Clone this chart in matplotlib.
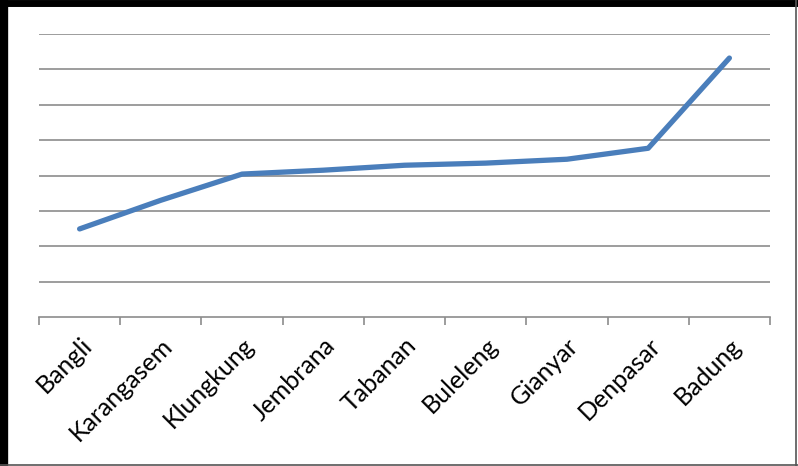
import matplotlib.pyplot as plt
from matplotlib.lines import Line2D

kabupaten = ['Bangli', 'Karangasem', 'Klungkung', 'Jembrana', 'Tabanan',
             'Buleleng', 'Gianyar', 'Denpasar', 'Badung']
nilai = [2.49, 3.30, 4.04, 4.15, 4.29, 4.35, 4.46, 4.77, 7.32]

plt.rcParams['font.family'] = ['Lato', 'DejaVu Sans']

fig = plt.figure(figsize=(7.98, 4.66), dpi=100)
ax = fig.add_axes([39 / 798, 149 / 466, 731 / 798, 283 / 466])

x = [i + 0.5 for i in range(len(kabupaten))]
ax.plot(x, nilai, color='#4a7ebb', linewidth=3.8, solid_capstyle='round',
        solid_joinstyle='round', zorder=3)

ax.set_xlim(0, len(kabupaten))
ax.set_ylim(0, 8)
ax.set_yticks(range(1, 9))
ax.yaxis.grid(True, color='#8c8c8c', linewidth=1.2)
ax.tick_params(axis='y', left=False, labelleft=False)

# ticks sit on category boundaries, labels at the centers
ax.set_xticks(range(len(kabupaten) + 1))
ax.set_xticklabels([])
ax.set_xticks(x, minor=True)
ax.set_xticklabels(kabupaten, minor=True, rotation=45, ha='right',
                   rotation_mode='anchor', fontsize=18)
ax.tick_params(axis='x', which='major', length=6, width=1.2, color='#8c8c8c',
               direction='out')
ax.tick_params(axis='x', which='minor', length=0, pad=12)

for s in ['top', 'right', 'left']:
    ax.spines[s].set_visible(False)
ax.spines['bottom'].set_color('#8c8c8c')
ax.spines['bottom'].set_linewidth(1.2)

# frame around the whole figure
fig.add_artist(Line2D([0.005, 0.005], [0, 1], color='black', linewidth=6,
                      transform=fig.transFigure))
fig.add_artist(Line2D([0, 1], [0.993, 0.993], color='black', linewidth=5,
                      transform=fig.transFigure))
fig.add_artist(Line2D([0.997, 0.997], [0, 1], color='#555555', linewidth=1.2,
                      transform=fig.transFigure))
fig.add_artist(Line2D([0, 1], [0.003, 0.003], color='#555555', linewidth=1.2,
                      transform=fig.transFigure))

fig.savefig('out.png', dpi=100)
